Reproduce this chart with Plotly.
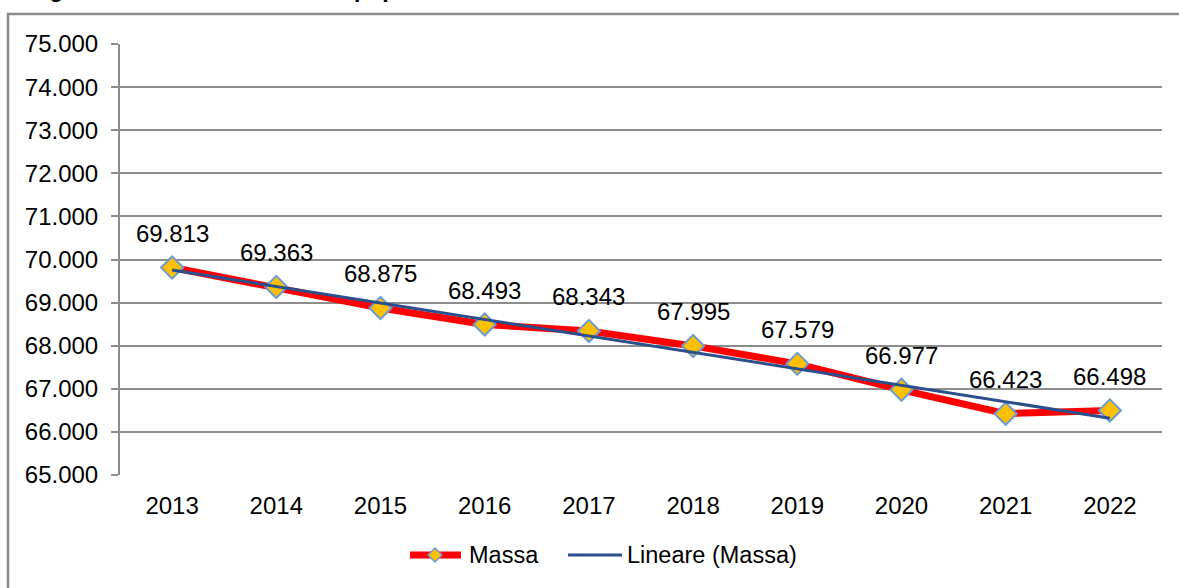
import numpy as np
import plotly.graph_objects as go

years = ["2013", "2014", "2015", "2016", "2017", "2018", "2019", "2020", "2021", "2022"]
massa = [69813, 69363, 68875, 68493, 68343, 67995, 67579, 66977, 66423, 66498]
y_ticks = [65000, 66000, 67000, 68000, 69000, 70000, 71000, 72000, 73000, 74000, 75000]
series_names = ["Massa", "Lineare (Massa)"]

# Excel-style linear trendline (least squares) computed from the data
xi = np.arange(len(massa))
slope, intercept = np.polyfit(xi, massa, 1)
trend = list(slope * xi + intercept)

W, H = 1179, 588
L, R, T, B = 120, 1162, 44, 475
pw, ph = R - L, B - T


def px_x(p):
    return (p - L) / pw


def px_y(p):
    return (B - p) / ph


FONT = "Liberation Sans, Arial, sans-serif"
RED = "#ff0000"
GOLD = "#ffc000"
EDGE = "#6b9bd2"
BLUE = "#2b4f8c"

fig = go.Figure()
fig.add_trace(go.Scatter(
    x=years, y=massa, name=series_names[0], mode="lines+markers",
    line=dict(color=RED, width=7),
    marker=dict(symbol="diamond", size=17, color=GOLD,
                line=dict(color=EDGE, width=2)),
    showlegend=False,
))
fig.add_trace(go.Scatter(
    x=years, y=trend, name=series_names[1], mode="lines",
    line=dict(color=BLUE, width=3),
    showlegend=False,
))

for i, v in enumerate(massa):
    fig.add_annotation(x=i, y=v, xref="x", yref="y",
                       text=f"{v:,}".replace(",", "."),
                       showarrow=False, yshift=34, yanchor="middle",
                       font=dict(size=24, color="#000000", family=FONT))

# cut-off title at the very top
fig.add_annotation(xref="paper", yref="paper", x=px_x(490), y=px_y(3.5),
                   xanchor="right", yanchor="bottom", showarrow=False,
                   text="<b>Figura 4.1 – Andamento della popolazione</b>",
                   font=dict(size=23, color="#000000", family=FONT))

# outer chart frame
fig.add_shape(type="rect", xref="paper", yref="paper",
              x0=px_x(8), x1=px_x(1240), y0=px_y(640), y1=px_y(14),
              line=dict(color="#8a8a8a", width=2.5), layer="below")

# legend (drawn to match the original's longer line samples)
LY = 555
fig.add_shape(type="line", xref="paper", yref="paper",
              x0=px_x(410), x1=px_x(461), y0=px_y(LY), y1=px_y(LY),
              line=dict(color=RED, width=7))
cx, cy, d = 435, LY, 7
fig.add_shape(type="path", xref="paper", yref="paper",
              path=(f"M {px_x(cx)},{px_y(cy - d)} L {px_x(cx + d)},{px_y(cy)} "
                    f"L {px_x(cx)},{px_y(cy + d)} L {px_x(cx - d)},{px_y(cy)} Z"),
              fillcolor=GOLD, line=dict(color=EDGE, width=1.5))
fig.add_annotation(xref="paper", yref="paper", x=px_x(467), y=px_y(LY),
                   xanchor="left", yanchor="middle", showarrow=False,
                   text=series_names[0],
                   font=dict(size=23.5, color="#000000", family=FONT))
fig.add_shape(type="line", xref="paper", yref="paper",
              x0=px_x(568), x1=px_x(622), y0=px_y(LY), y1=px_y(LY),
              line=dict(color=BLUE, width=3))
fig.add_annotation(xref="paper", yref="paper", x=px_x(625), y=px_y(LY),
                   xanchor="left", yanchor="middle", showarrow=False,
                   text=series_names[1],
                   font=dict(size=23.5, color="#000000", family=FONT))

fig.update_layout(
    width=W, height=H,
    margin=dict(l=L, r=W - R, t=T, b=H - B, pad=0),
    paper_bgcolor="white", plot_bgcolor="white",
    separators=",.",
    font=dict(family=FONT, size=24, color="#000000"),
    showlegend=False,
    xaxis=dict(type="category", range=[-0.5, 9.5], showgrid=False,
               showline=False, ticks="", zeroline=False,
               tickfont=dict(size=24, family=FONT), ticklabelstandoff=14),
    yaxis=dict(range=[65000, 75000], tickvals=y_ticks, tickformat=",d",
               showgrid=True, gridcolor="#8c8c8c", gridwidth=2,
               showline=True, linecolor="#8c8c8c", linewidth=2,
               ticks="outside", ticklen=7, tickcolor="#8c8c8c", tickwidth=2,
               zeroline=False, tickfont=dict(size=24, family=FONT),
               ticklabelstandoff=8),
)

fig.write_html("out.html",
               config={"displayModeBar": False},
               post_script="document.body.style.margin='0';document.body.style.overflow='hidden';")
